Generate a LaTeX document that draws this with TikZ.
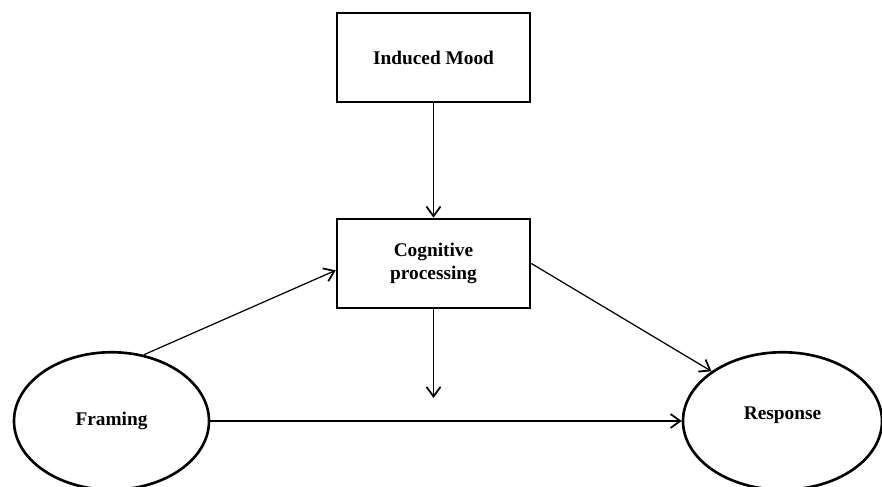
\documentclass[tikz,border=0pt]{standalone}
\usepackage{fontspec}
\setmainfont{Liberation Serif}
\usetikzlibrary{arrows.meta,shapes.geometric}

\begin{document}
\begin{tikzpicture}
		\tikzstyle{every node} = [font = \fontsize{11}{13}\selectfont\bfseries, align = center]
		\tikzstyle{boxnode} = [draw, line width = 1.5pt, minimum width = 3.86cm, minimum height = 1.78cm, inner sep = 0pt]
		\tikzstyle{ovalnode} = [draw, ellipse, line width = 1.5pt, minimum width = 3.9cm, minimum height = 2.75cm, inner sep = 0pt]
		\tikzstyle{link} = [line width = .7pt, -{Straight Barb[length = 5.5pt, width = 8pt, line width = 1pt]}]
		\useasboundingbox (0,0) rectangle (17.64,-9.74);

		% boxes
		\node [boxnode] (mood) at (8.67,-1.15) {Induced Mood};
		\node [boxnode] (cog) at (8.67,-5.27) {Cognitive\\processing};

		% ovals
		\node [ovalnode] (framing) at (2.23,-8.42) {Framing};
		\node [ovalnode, minimum width = 3.98cm] (response) at (15.65,-8.42) {\raisebox{.3cm}{Response}};

		\coordinate (cogout) at (8.67,-7.96); % free end below processing

		\draw [link] (mood) -- (cog); %mood to processing
		\draw [link] (cog) -- (cogout);
		\draw [link] (framing.64) -- (cog.184); %framing to processing
		\draw [link] (cog.east) -- (response.145); %processing to response
		\draw [link] (framing) -- (response); %framing to response
	\end{tikzpicture}
\end{document}
